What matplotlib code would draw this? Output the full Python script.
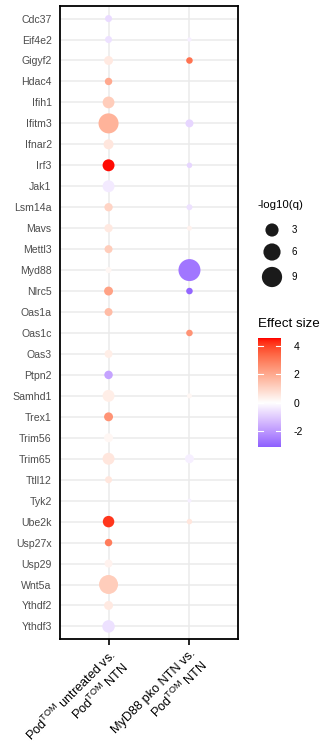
import numpy as np
import matplotlib
matplotlib.use("Agg")
import matplotlib.pyplot as plt
from matplotlib.colors import ListedColormap, Normalize

plt.rcParams["font.family"] = ["Liberation Sans", "DejaVu Sans"]
plt.rcParams["mathtext.fontset"] = "custom"
plt.rcParams["mathtext.rm"] = "Liberation Sans"

# DATA
genes = ["Cdc37", "Eif4e2", "Gigyf2", "Hdac4", "Ifih1", "Ifitm3", "Ifnar2", "Irf3",
         "Jak1", "Lsm14a", "Mavs", "Mettl3", "Myd88", "Nlrc5", "Oas1a", "Oas1c",
         "Oas3", "Ptpn2", "Samhd1", "Trex1", "Trim56", "Trim65", "Ttll12", "Tyk2",
         "Ube2k", "Usp27x", "Usp29", "Wnt5a", "Ythdf2", "Ythdf3"]
comparisons = ["Pod$^{\\mathrm{TOM}}$ untreated vs.\nPod$^{\\mathrm{TOM}}$ NTN",
               "MyD88 pko NTN vs.\nPod$^{\\mathrm{TOM}}$ NTN"]
nan = np.nan
# Pod untreated vs Pod NTN
effect_1 = [-0.7, -0.6, 0.5, 2.0, 1.2, 1.8, 0.6, 4.5, -0.4, 1.0, 0.5, 1.2, 0.2, 2.2, 1.6, nan,
            0.4, -1.8, 0.4, 2.5, 0.2, 0.6, 0.6, nan, 4.2, 3.0, 0.3, 1.2, 0.5, -0.6]
q_1 = [0.4, 0.4, 0.95, 0.5, 2.2, 8.8, 1.35, 2.3, 2.3, 0.75, 0.75, 0.65, 0.2, 0.95, 0.65, nan,
       0.65, 0.8, 2.3, 0.95, 0.95, 2.3, 0.4, nan, 2.05, 0.5, 0.65, 7.7, 0.95, 2.6]
# MyD88 pko NTN vs Pod NTN
effect_2 = [nan, -0.3, 3.2, nan, nan, -0.8, nan, -0.8, nan, -0.6, 0.3, nan, -2.7, -3.0, nan, 2.5,
            nan, nan, 0.2, nan, nan, -0.3, nan, -0.3, 0.6, nan, nan, nan, nan, nan]
q_2 = [nan, 0.02, 0.3, nan, nan, 0.65, nan, 0.13, nan, 0.2, 0.07, nan, 11.0, 0.3, nan, 0.3,
       nan, nan, 0.07, nan, nan, 0.95, nan, 0.01, 0.13, nan, nan, nan, nan, nan]
size_breaks = [3, 6, 9]
color_ticks = [-2, 0, 2, 4]
effect_lim = (-3.12, 4.56)

# colour scale: blue - white - red, interpolated in Lab like ggplot
M = np.array([[0.4124564, 0.3575761, 0.1804375],
              [0.2126729, 0.7151522, 0.0721750],
              [0.0193339, 0.1191920, 0.9503041]])
WP = np.array([0.95047, 1.0, 1.08883])


def to_lab(rgb):
    c = np.asarray(rgb, float)
    lin = np.where(c <= 0.04045, c / 12.92, ((c + 0.055) / 1.055) ** 2.4)
    xyz = M @ lin / WP
    f = np.where(xyz > (6 / 29) ** 3, np.cbrt(xyz), xyz / (3 * (6 / 29) ** 2) + 4 / 29)
    return np.array([116 * f[1] - 16, 500 * (f[0] - f[1]), 200 * (f[1] - f[2])])


def from_lab(lab):
    L, a, b = lab
    fy = (L + 16) / 116
    f = np.array([fy + a / 500, fy, fy - b / 200])
    xyz = np.where(f > 6 / 29, f ** 3, 3 * (6 / 29) ** 2 * (f - 4 / 29)) * WP
    lin = np.clip(np.linalg.solve(M, xyz), 0, 1)
    c = np.where(lin <= 0.0031308, 12.92 * lin, 1.055 * lin ** (1 / 2.4) - 0.055)
    return np.clip(c, 0, 1)


lab_lo, lab_mid, lab_hi = to_lab([0, 0, 1]), to_lab([1, 1, 1]), to_lab([1, 0, 0])
vmax = max(abs(effect_lim[0]), abs(effect_lim[1]))
grid_vals = np.linspace(-vmax, vmax, 256)
cols = []
for v in grid_vals:
    t = abs(v) / vmax
    end = lab_hi if v > 0 else lab_lo
    cols.append(from_lab(lab_mid + (end - lab_mid) * t))
cmap = ListedColormap(cols)
norm = Normalize(-vmax, vmax)

# size scale (diameter in px, area-like mapping)
qmax = 11.0
dmin, dmax = 3.5, 22.0


def size_pts(q):
    d = dmin + (dmax - dmin) * np.sqrt(np.clip(np.asarray(q, float), 0, None) / qmax)
    return (d * 0.72) ** 2


W, H = 328, 749
fig = plt.figure(figsize=(W / 100, H / 100), dpi=100)
ax = fig.add_axes([60 / W, 1 - 639 / H, 178 / W, 633 / H])

ypos = np.arange(len(genes))
for i, (eff, q) in enumerate([(effect_1, q_1), (effect_2, q_2)]):
    eff = np.array(eff)
    q = np.array(q)
    ok = ~np.isnan(eff)
    ax.scatter(np.full(ok.sum(), i), ypos[ok], s=size_pts(q[ok]), c=eff[ok],
               cmap=cmap, norm=norm, edgecolors="none", zorder=3)

ax.set_xlim(-0.6, 1.6)
ax.set_ylim(len(genes) - 0.4, -0.6)
ax.set_xticks([0, 1])
ax.set_xticklabels(comparisons, rotation=45, ha="right", va="top",
                   rotation_mode="anchor", fontsize=9.2, color="black",
                   multialignment="right")
ax.set_yticks(ypos)
ax.set_yticklabels(genes, fontsize=7.6, color="#4D4D4D")
ax.tick_params(axis="y", length=0, pad=6)
ax.tick_params(axis="x", length=4, width=1.2, color="black", pad=2)
ax.grid(True, color="#EBEBEB", linewidth=1.1, zorder=0)
ax.set_axisbelow(True)
for sp in ax.spines.values():
    sp.set_linewidth(1.3)
    sp.set_color("black")

# size legend
lax = fig.add_axes([0, 0, 1, 1])
lax.set_xlim(0, W)
lax.set_ylim(H, 0)
lax.axis("off")
lax.text(258, 205, "-log10(q)", fontsize=8.2, va="center", ha="left")
for yy, b in zip([230, 252, 277], size_breaks):
    lax.scatter([272], [yy], s=size_pts(b), color="#1A1A1A", edgecolors="none")
    lax.text(292, yy, str(b), fontsize=7, va="center", ha="left")
lax.text(258, 324, "Effect size", fontsize=9.6, va="center", ha="left")

# colour bar
cax = fig.add_axes([258 / W, 1 - 447 / H, 23 / W, 109 / H])
bar = np.linspace(effect_lim[0], effect_lim[1], 300).reshape(-1, 1)
cax.imshow(bar, aspect="auto", origin="lower", cmap=cmap, norm=norm,
           extent=[0, 1, effect_lim[0], effect_lim[1]])
cax.set_xlim(0, 1)
cax.set_ylim(*effect_lim)
cax.set_xticks([])
cax.set_yticks(color_ticks)
cax.yaxis.tick_right()
cax.set_yticklabels([str(t) for t in color_ticks], fontsize=7.5)
cax.tick_params(axis="y", length=0, pad=9)
for t in color_ticks:
    cax.plot([0, 0.2], [t, t], color="white", lw=0.8)
    cax.plot([0.8, 1], [t, t], color="white", lw=0.8)
for sp in cax.spines.values():
    sp.set_visible(False)

fig.savefig("out.png", dpi=100)
